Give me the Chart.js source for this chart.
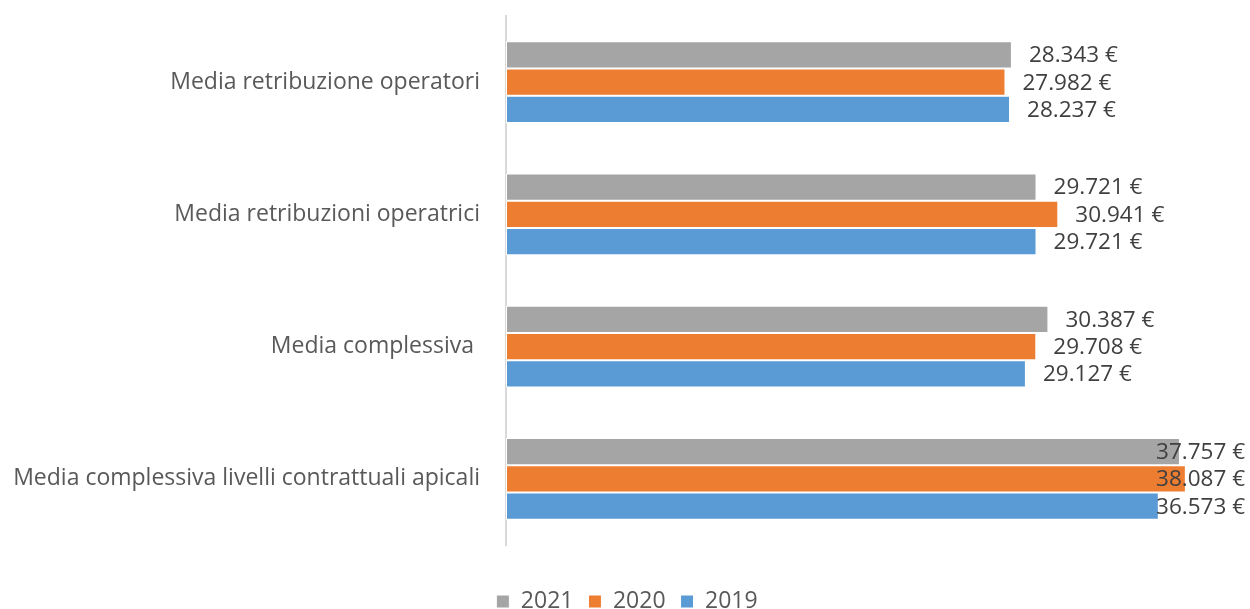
<!DOCTYPE html>
<html>
<head>
<meta charset="utf-8">
<script src="https://cdn.jsdelivr.net/npm/chart.js@4/dist/chart.umd.min.js"></script>
<style>
  html, body { margin: 0; padding: 0; background: #fff; }
  #wrap { width: 1250px; height: 609px; }
</style>
</head>
<body>
<div id="wrap"><canvas id="chart" width="1250" height="609"></canvas></div>
<script>
const categories = [
  'Media retribuzione operatori',
  'Media retribuzioni operatrici',
  'Media complessiva ',
  'Media complessiva livelli contrattuali apicali'
];
const values2021 = [28343, 29721, 30387, 37757];
const values2020 = [27982, 30941, 29708, 38087];
const values2019 = [28237, 29721, 29127, 36573];

const FONT = '"Open Sans", sans-serif';

function euro(v) {
  const s = String(v).replace(/\B(?=(\d{3})+(?!\d))/g, '.');
  return s + ' €';
}

// value labels placed after the bar end, pushed back inside when they'd run off the canvas
const valueLabels = {
  id: 'valueLabels',
  afterDatasetsDraw(chart) {
    const ctx = chart.ctx;
    ctx.save();
    ctx.font = '22.5px ' + FONT;
    ctx.fillStyle = '#404040';
    ctx.textBaseline = 'middle';
    ctx.textAlign = 'left';
    chart.data.datasets.forEach((ds, i) => {
      chart.getDatasetMeta(i).data.forEach((bar, j) => {
        const text = euro(ds.data[j]);
        const w = ctx.measureText(text).width;
        const x = Math.min(bar.x + 17, chart.width - 5 - w);
        ctx.fillText(text, x, bar.y + 1);
      });
    });
    ctx.restore();
  }
};

// legend is centred on the whole picture, not on the area left of the right padding
const legendShift = {
  id: 'legendShift',
  afterLayout(chart) {
    chart.legend.left += 17;
    chart.legend.right += 17;
  }
};

const ctx = document.getElementById('chart').getContext('2d');
new Chart(ctx, {
  type: 'bar',
  data: {
    labels: categories,
    datasets: [
      { label: '2021', data: values2021, backgroundColor: '#A5A5A5' },
      { label: '2020', data: values2020, backgroundColor: '#ED7D31' },
      { label: '2019', data: values2019, backgroundColor: '#5B9BD5' }
    ].map(d => Object.assign(d, {
      borderColor: '#ffffff',
      borderWidth: 1,
      borderSkipped: false,
      barPercentage: 1,
      categoryPercentage: 0.62
    }))
  },
  options: {
    indexAxis: 'y',
    responsive: false,
    animation: false,
    layout: { padding: { top: 16, right: 30, left: 0, bottom: -14 } },
    plugins: {
      legend: {
        position: 'bottom',
        labels: {
          boxWidth: 13,
          boxHeight: 13,
          padding: 15,
          color: '#595959',
          font: { family: FONT, size: 23 }
        }
      },
      tooltip: { enabled: false }
    },
    scales: {
      x: {
        min: 0,
        max: 40000,
        ticks: { display: false },
        grid: { display: false },
        border: { display: false },
        afterFit(scale) { scale.height = 30; }
      },
      y: {
        ticks: {
          color: '#595959',
          padding: 26,
          font: { family: FONT, size: 23 }
        },
        grid: { display: false, drawTicks: false },
        border: { display: true, color: '#D9D9D9', width: 2 },
        afterFit(scale) {
          scale.width = 506;
          scale.paddingTop = 0;
          scale.paddingBottom = 0;
        }
      }
    }
  },
  plugins: [valueLabels, legendShift]
});
</script>
</body>
</html>
